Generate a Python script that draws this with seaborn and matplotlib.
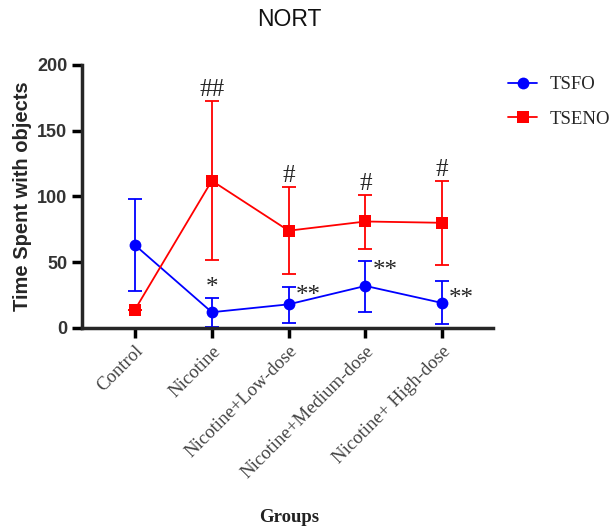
import pandas as pd
import matplotlib.pyplot as plt
import seaborn as sns

groups = ["Control", "Nicotine", "Nicotine+Low-dose", "Nicotine+Medium-dose", "Nicotine+ High-dose"]

tsfo_mean = [63, 12, 18, 32, 19]
tsfo_low = [28, 1, 4, 12, 3]
tsfo_high = [98, 23, 31, 51, 36]

tseno_mean = [14, 112, 74, 81, 80]
tseno_low = [14, 52, 41, 60, 48]
tseno_high = [14, 173, 107, 101, 112]

tseno_marks = ["", "##", "#", "#", "#"]
tsfo_marks = ["", "*", "**", "**", "**"]

df = pd.DataFrame({
    "Groups": groups * 2,
    "value": tsfo_mean + tseno_mean,
    "series": ["TSFO"] * 5 + ["TSENO"] * 5,
})

sns.set_style("ticks")
plt.rcParams["font.family"] = ["Liberation Sans", "DejaVu Sans"]

fig = plt.figure(figsize=(6.13, 5.31), dpi=100)
ax = fig.add_axes([82 / 613, 1 - 328 / 531, 411 / 613, 263 / 531])

palette = {"TSFO": "#0000ff", "TSENO": "#ff0000"}

sns.lineplot(
    data=df,
    x="Groups",
    y="value",
    hue="series",
    style="series",
    markers={"TSFO": "o", "TSENO": "s"},
    dashes=False,
    palette=palette,
    markersize=8.5,
    markeredgewidth=0,
    linewidth=1.3,
    ax=ax,
    clip_on=False,
    zorder=3,
)

x = list(range(len(groups)))
for mean, lo, hi, c in [(tsfo_mean, tsfo_low, tsfo_high, "#0000ff"),
                        (tseno_mean, tseno_low, tseno_high, "#ff0000")]:
    yerr = [[m - l for m, l in zip(mean, lo)], [h - m for m, h in zip(mean, hi)]]
    ax.errorbar(x, mean, yerr=yerr, fmt="none", ecolor=c, elinewidth=1.3,
                capsize=5, capthick=1.3, clip_on=False, zorder=2)

# significance marks
mark_font = dict(fontsize=18, family=["Liberation Serif"])
for i, m in enumerate(tseno_marks):
    if m:
        ax.annotate(m, (i, tseno_high[i]), xytext=(0, 0), textcoords="offset points",
                    ha="center", va="bottom", **mark_font)
ax.annotate("*", (1, tsfo_high[1]), xytext=(0, -1), textcoords="offset points",
            ha="center", va="bottom", **mark_font)
for i, dy in [(2, 24), (3, 43), (4, 22)]:
    ax.annotate(tsfo_marks[i], (i, dy), xytext=(5, 0), textcoords="offset points",
                ha="left", va="center", **mark_font)

ax.set_xlim(-0.69, 4.66)
ax.set_ylim(0, 200)
ax.set_yticks([0, 50, 100, 150, 200])

sns.despine(ax=ax)
for s in ["left", "bottom"]:
    ax.spines[s].set_linewidth(2.5)
ax.tick_params(axis="both", width=2.5, length=7, color="black")
ax.tick_params(axis="y", labelsize=13, labelcolor="#333333")
for lab in ax.get_yticklabels():
    lab.set_fontweight("bold")

ax.set_xticks(x)
ax.set_xticklabels(groups, rotation=45, ha="right", rotation_mode="anchor",
                   fontsize=13.5, color="#444444", family=["Liberation Serif"])

ax.set_ylabel("Time Spent with objects", fontsize=14.5, fontweight="bold", labelpad=4)
ax.set_xlabel("")
fig.text(289 / 613, 1 - 518 / 531, "Groups", ha="center", va="center",
         fontsize=13.5, fontweight="bold", family=["Liberation Serif"], color="#222222")
fig.text(289 / 613, 1 - 20 / 531, "NORT", ha="center", va="center",
         fontsize=16.5, color="#111111")

ax.legend(handles=ax.get_legend_handles_labels()[0],
          labels=["TSFO", "TSENO"],
          loc="upper left", bbox_to_anchor=(508 / 613, 1 - 76 / 531),
          bbox_transform=fig.transFigure, frameon=False, borderpad=0,
          borderaxespad=0,
          prop={"family": "Liberation Serif", "size": 13.5},
          handlelength=1.55, handletextpad=0.65, labelspacing=0.95)

fig.savefig("out.png", dpi=100)
